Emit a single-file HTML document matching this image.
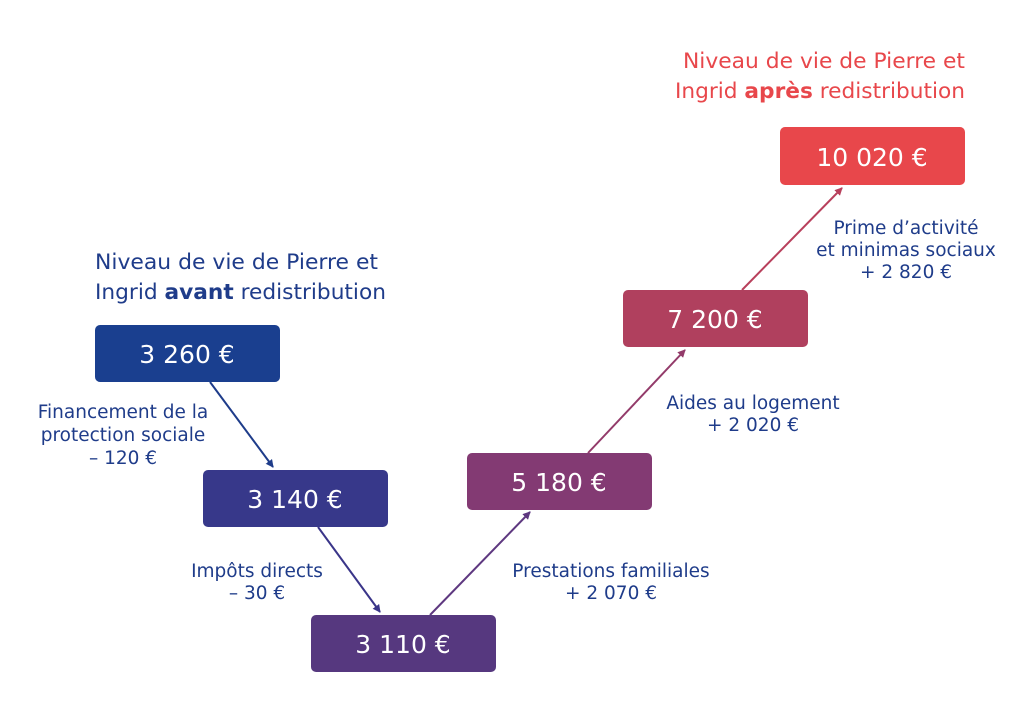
<!DOCTYPE html>
<html><head><meta charset="utf-8"><style>
body{margin:0;background:#fff;width:1024px;height:724px;overflow:hidden;font-family:"DejaVu Sans",sans-serif}
</style></head><body>
<svg width="1024" height="724" xmlns="http://www.w3.org/2000/svg" font-family="DejaVu Sans, sans-serif" style="display:block">
<defs>
<marker id="a1" markerWidth="8" markerHeight="8" refX="7" refY="4" orient="auto" markerUnits="userSpaceOnUse"><path d="M0,0 L8,4 L0,8 z" fill="#1e3c8a"/></marker>
<marker id="a2" markerWidth="8" markerHeight="8" refX="7" refY="4" orient="auto" markerUnits="userSpaceOnUse"><path d="M0,0 L8,4 L0,8 z" fill="#3a3589"/></marker>
<marker id="a3" markerWidth="8" markerHeight="8" refX="7" refY="4" orient="auto" markerUnits="userSpaceOnUse"><path d="M0,0 L8,4 L0,8 z" fill="#5e3880"/></marker>
<marker id="a4" markerWidth="8" markerHeight="8" refX="7" refY="4" orient="auto" markerUnits="userSpaceOnUse"><path d="M0,0 L8,4 L0,8 z" fill="#933b6a"/></marker>
<marker id="a5" markerWidth="8" markerHeight="8" refX="7" refY="4" orient="auto" markerUnits="userSpaceOnUse"><path d="M0,0 L8,4 L0,8 z" fill="#b8405c"/></marker>
</defs>
<g font-size="21">
<text x="95" y="269" fill="#1f3c8a" textLength="283" lengthAdjust="spacingAndGlyphs">Niveau de vie de Pierre et</text>
<text x="95" y="299" fill="#1f3c8a" textLength="291" lengthAdjust="spacingAndGlyphs">Ingrid <tspan font-weight="bold">avant</tspan> redistribution</text>
<text x="965" y="68" fill="#e8474b" text-anchor="end" textLength="282" lengthAdjust="spacingAndGlyphs">Niveau de vie de Pierre et</text>
<text x="965" y="98" fill="#e8474b" text-anchor="end" textLength="290" lengthAdjust="spacingAndGlyphs">Ingrid <tspan font-weight="bold">après</tspan> redistribution</text>
</g>
<line x1="210" y1="382" x2="273" y2="467" stroke="#1e3c8a" stroke-width="2" marker-end="url(#a1)"/>
<line x1="318" y1="527" x2="380" y2="612" stroke="#3a3589" stroke-width="2" marker-end="url(#a2)"/>
<line x1="430" y1="615" x2="530" y2="512" stroke="#5e3880" stroke-width="2" marker-end="url(#a3)"/>
<line x1="588" y1="453" x2="685" y2="350" stroke="#933b6a" stroke-width="2" marker-end="url(#a4)"/>
<line x1="742" y1="290" x2="842" y2="188" stroke="#b8405c" stroke-width="2" marker-end="url(#a5)"/>
<g font-size="25" fill="#fff" text-anchor="middle">
<rect x="95" y="325" width="185" height="57" rx="5" fill="#1a3f8f"/><text x="187" y="363">3 260 €</text>
<rect x="203" y="470" width="185" height="57" rx="5" fill="#37388a"/><text x="295" y="508">3 140 €</text>
<rect x="311" y="615" width="185" height="57" rx="5" fill="#56387f"/><text x="403" y="653">3 110 €</text>
<rect x="467" y="453" width="185" height="57" rx="5" fill="#833a73"/><text x="559" y="491">5 180 €</text>
<rect x="623" y="290" width="185" height="57" rx="5" fill="#b0405e"/><text x="715" y="328">7 200 €</text>
<rect x="780" y="127" width="185" height="58" rx="5" fill="#e8474b"/><text x="872" y="166">10 020 €</text>
</g>
<g font-size="18.5" fill="#1f3c8a" text-anchor="middle">
<text x="123" y="418">Financement de la</text>
<text x="123" y="441">protection sociale</text>
<text x="123" y="464">– 120 €</text>
<text x="257" y="577">Impôts directs</text>
<text x="257" y="599">– 30 €</text>
<text x="611" y="577">Prestations familiales</text>
<text x="611" y="599">+ 2 070 €</text>
<text x="753" y="409">Aides au logement</text>
<text x="753" y="431">+ 2 020 €</text>
<text x="906" y="234">Prime d’activité</text>
<text x="906" y="256">et minimas sociaux</text>
<text x="906" y="278">+ 2 820 €</text>
</g>
</svg>
</body></html>
